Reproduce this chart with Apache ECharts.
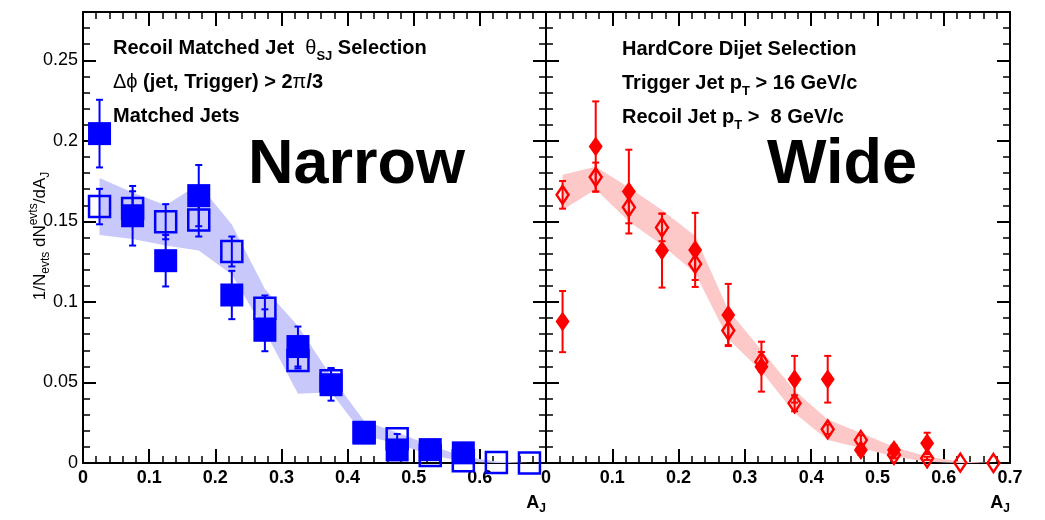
<!DOCTYPE html>
<html><head><meta charset="utf-8">
<script src="https://cdn.jsdelivr.net/npm/echarts@6/dist/echarts.min.js"></script>
<style>html,body{margin:0;padding:0;background:#fff}#c{width:1045px;height:520px}</style>
</head><body><div id="c"></div>
<script>
// ---------- data ----------
const binCenters = [0.025,0.075,0.125,0.175,0.225,0.275,0.325,0.375,0.425,0.475,0.525,0.575,0.625,0.675];

// Narrow (blue)
const narrowFilled    = [0.2045,0.1535,0.1256,0.166,0.1043,0.0824,0.0723,0.0486,0.0186,0.0081,0.0083,0.0063];
const narrowFilledErr = [0.021,0.0185,0.016,0.019,0.015,0.013,0.0124,0.0099,0.004,0.004,0.004,0.003];
const narrowOpen      = [0.1592,0.158,0.1498,0.1508,0.1313,0.096,0.0637,0.051,0.019,0.015,0.0047,0.0014,0.0003,0.0];
const narrowOpenErr   = [0.011,0.0107,0.0109,0.0102,0.0093,0.008,0.005,0.008,0.003,0.003,0.002,0.001,0,0];
const narrowBandHi    = [0.177,0.168,0.160,0.173,0.148,0.108,0.085,0.054,0.026,0.019,0.011,0.004,0.001,0.0];
const narrowBandLo    = [0.1416,0.139,0.135,0.132,0.117,0.082,0.043,0.044,0.017,0.012,0.005,0.001,0.0,0.0];

// Wide (red)
const wideFilled    = [0.0878,0.1965,0.1685,0.1319,0.1323,0.0919,0.0598,0.052,0.052,0.0081,0.0081,0.0122];
const wideFilledErr = [0.019,0.028,0.026,0.023,0.023,0.0193,0.0155,0.0145,0.0145,0.003,0.003,0.0066];
const wideOpen      = [0.1665,0.1775,0.1588,0.1462,0.1236,0.0822,0.0629,0.0371,0.0209,0.0143,0.005,0.0029,0.0002,0.0];
const wideOpenErr   = [0.0086,0.009,0.01,0.0085,0.01,0.009,0.006,0.005,0.003,0.003,0.002,0.001,0,0];
const wideBandHi    = [0.179,0.184,0.171,0.157,0.141,0.095,0.070,0.045,0.027,0.0186,0.010,0.004,0.001,0.0];
const wideBandLo    = [0.157,0.170,0.150,0.1354,0.118,0.077,0.057,0.031,0.0143,0.0093,0.004,0.0008,0.0,0.0];

const xTickValues = [0,0.1,0.2,0.3,0.4,0.5,0.6,0.7];
const yTickLabels = ['0','0.05','0.1','0.15','0.2','0.25'];

// ---------- helpers ----------
const FONT = '"Liberation Sans", Arial, Helvetica, sans-serif';
const BLUE = '#0000ff', RED = '#ff0000';
const BLUE_BAND = 'rgb(200,200,250)', RED_BAND = 'rgb(252,200,200)';

function pts(ys){ return ys.map((y,i)=>[binCenters[i], y]); }
function errPts(ys, es){ return ys.map((y,i)=>[binCenters[i], y, es[i]]); }

function errRender(color){
  return function(params, api){
    const x = api.value(0), y = api.value(1), e = api.value(2);
    if (!(e > 0)) return null;
    const t = api.coord([x, y + e]), b = api.coord([x, y - e]);
    const w = 3.5, ls = {stroke: color, lineWidth: 2};
    return {type:'group', children:[
      {type:'line', shape:{x1:t[0],y1:t[1],x2:b[0],y2:b[1]}, style:ls},
      {type:'line', shape:{x1:t[0]-w,y1:t[1],x2:t[0]+w,y2:t[1]}, style:ls},
      {type:'line', shape:{x1:b[0]-w,y1:b[1],x2:b[0]+w,y2:b[1]}, style:ls}
    ]};
  };
}
function bandRender(hi, lo, color){
  return function(params, api){
    if (params.dataIndex !== 0) return null;
    const p = [];
    for (let i=0;i<binCenters.length;i++) p.push(api.coord([binCenters[i], hi[i]]));
    for (let i=binCenters.length-1;i>=0;i--) p.push(api.coord([binCenters[i], lo[i]]));
    return {type:'polygon', shape:{points:p}, style:{fill:color}};
  };
}

const axisLine = {show:true, onZero:false, lineStyle:{color:'#000', width:2}};
const noLine = {show:false, onZero:false};
// 4 x axes per grid: bottom major (labels), bottom minor, top major, top minor
function xAxesFor(g){
  const major = {type:'value', gridIndex:g, min:0, max:0.7, interval:0.1,
    axisLine, splitLine:{show:false},
    axisTick:{show:true, inside:true, length:14, lineStyle:{color:'#000', width:2}}};
  const minor = {type:'value', gridIndex:g, min:0, max:0.7, interval:0.02,
    axisLine:noLine, splitLine:{show:false}, axisLabel:{show:false},
    axisTick:{show:true, inside:true, length:7, lineStyle:{color:'#000', width:1.5}}};
  return [
    Object.assign({}, major, {position:'bottom',
      axisLabel:{show:true, margin:6, color:'#000', fontFamily:FONT, fontWeight:'bold', fontSize:18,
        formatter:function(v){
          if (g===0 && v>0.65) return '';
          const idx = Math.round(v*10);
          return idx===0 ? '0' : String(xTickValues[idx]);
        }}}),
    Object.assign({}, minor, {position:'bottom'}),
    Object.assign({}, major, {position:'top', axisLabel:{show:false}}),
    Object.assign({}, minor, {position:'top'})
  ];
}
function yAxesFor(g){
  const major = {type:'value', gridIndex:g, min:0, max:0.28, interval:0.05, axisLine,
    splitLine:{show:false},
    axisTick:{show:true, inside:true, length:13, lineStyle:{color:'#000', width:2}}};
  const minor = {type:'value', gridIndex:g, min:0, max:0.28, interval:0.01,
    axisLine:noLine, splitLine:{show:false}, axisLabel:{show:false},
    axisTick:{show:true, inside:true, length:7, lineStyle:{color:'#000', width:1.5}}};
  return [
    Object.assign({}, major, {position:'left', axisLabel:{show:g===0, margin:5, color:'#000', fontFamily:FONT, fontSize:18,
      formatter:function(v){ const i = Math.round(v/0.05); return Math.abs(v - i*0.05) < 1e-6 && i < yTickLabels.length ? yTickLabels[i] : ''; }}}),
    Object.assign({}, minor, {position:'left'}),
    Object.assign({}, major, {position:'right', axisLabel:{show:false}}),
    Object.assign({}, minor, {position:'right'})
  ];
}

const series = [];
function addPanel(g, hi, lo, bandColor, filled, filledErr, open, openErr, color, filledSym, openSym){
  const xi = g*4, yi = g*4;
  series.push({type:'custom', xAxisIndex:xi, yAxisIndex:yi, silent:true, z:1,
    data: binCenters.map((x,i)=>[x, hi[i], lo[i]]), encode:{x:0, y:1},
    renderItem: bandRender(hi, lo, bandColor)});
  series.push({type:'custom', xAxisIndex:xi, yAxisIndex:yi, silent:true, z:3,
    data: errPts(filled, filledErr), encode:{x:0, y:1}, renderItem: errRender(color)});
  series.push(Object.assign({type:'scatter', xAxisIndex:xi, yAxisIndex:yi, silent:true, z:3,
    data: pts(filled), itemStyle:{color:color, opacity:1}}, filledSym));
  series.push({type:'custom', xAxisIndex:xi, yAxisIndex:yi, silent:true, z:4,
    data: errPts(open, openErr), encode:{x:0, y:1}, renderItem: errRender(color)});
  series.push(Object.assign({type:'scatter', xAxisIndex:xi, yAxisIndex:yi, silent:true, z:5,
    data: pts(open), itemStyle:{color:'rgba(0,0,0,0)', borderColor:color, borderWidth:2.5, opacity:1}}, openSym));
}
addPanel(0, narrowBandHi, narrowBandLo, BLUE_BAND, narrowFilled, narrowFilledErr, narrowOpen, narrowOpenErr, BLUE,
  {symbol:'rect', symbolSize:23}, {symbol:'rect', symbolSize:21});
addPanel(1, wideBandHi, wideBandLo, RED_BAND, wideFilled, wideFilledErr, wideOpen, wideOpenErr, RED,
  {symbol:'diamond', symbolSize:[14,20]}, {symbol:'diamond', symbolSize:[12,18]});

// ---------- text ----------
const B = {fontFamily:FONT, fontWeight:'bold', fontSize:20, fill:'#000', lineHeight:30, verticalAlign:'middle'};
const R = {fontFamily:FONT, fontWeight:'normal', fontSize:20, fill:'#000', lineHeight:30, verticalAlign:'middle'};
const SUB = {fontFamily:FONT, fontWeight:'bold', fontSize:13, fill:'#000', lineHeight:6, verticalAlign:'bottom'};
function txt(x, y, text, rich, extra){
  return Object.assign({type:'text', x:x, y:y, silent:true, z:100,
    style:{text:text, rich:rich, align:'left', verticalAlign:'middle', fontFamily:FONT, fill:'#000'}}, extra||{});
}
const richL = {b:B, r:R, s:SUB};
const graphic = [
  txt(113, 48, '{b|Recoil Matched Jet  }{r|θ}{s|SJ}{b| Selection}', {b:B, r:R, s:Object.assign({}, SUB, {lineHeight:10})}),
  txt(113, 82, '{r|Δϕ}{b| (jet, Trigger) > 2}{r|π}{b|/3}', richL),
  txt(113, 116, '{b|Matched Jets}', richL),
  txt(622, 49, '{b|HardCore Dijet Selection}', richL),
  txt(622, 83, '{b|Trigger Jet p}{s|T}{b| > 16 GeV/c}', richL),
  txt(622, 117, '{b|Recoil Jet p}{s|T}{b| >  8 GeV/c}', richL),
  {type:'text', x:248, y:166, silent:true, z:100, style:{text:'Narrow', font:'bold 63px ' + FONT, fill:'#000', align:'left', verticalAlign:'middle'}},
  {type:'text', x:767, y:166, silent:true, z:100, style:{text:'Wide', font:'bold 63px ' + FONT, fill:'#000', align:'left', verticalAlign:'middle'}},
  // axis titles
  {type:'text', x:546, y:503, silent:true, z:100, style:{text:'{a|A}{s|J}', align:'right', verticalAlign:'middle',
    rich:{a:{fontFamily:FONT, fontWeight:'bold', fontSize:18, lineHeight:24, verticalAlign:'middle', fill:'#000'},
          s:{fontFamily:FONT, fontWeight:'bold', fontSize:12, lineHeight:10, verticalAlign:'bottom', fill:'#000'}}}},
  {type:'text', x:1010, y:503, silent:true, z:100, style:{text:'{a|A}{s|J}', align:'right', verticalAlign:'middle',
    rich:{a:{fontFamily:FONT, fontWeight:'bold', fontSize:18, lineHeight:24, verticalAlign:'middle', fill:'#000'},
          s:{fontFamily:FONT, fontWeight:'bold', fontSize:12, lineHeight:10, verticalAlign:'bottom', fill:'#000'}}}},
  {type:'text', x:40, y:236, rotation:Math.PI/2, silent:true, z:100, style:{
    text:'{m|1/N}{sub|evts}{m| dN}{sup|evts}{m|/dA}{sub|J}', align:'center', verticalAlign:'middle',
    rich:{m:{fontFamily:FONT, fontSize:17, lineHeight:24, verticalAlign:'middle', fill:'#000'},
          sub:{fontFamily:FONT, fontSize:12, lineHeight:12, verticalAlign:'bottom', fill:'#000'},
          sup:{fontFamily:FONT, fontSize:12, lineHeight:10, verticalAlign:'top', fill:'#000'}}}}
];

const chart = echarts.init(document.getElementById('c'), null, {renderer:'canvas'});
chart.setOption({
  animation:false,
  backgroundColor:'#fff',
  grid:[{left:83, top:12, width:463, height:451}, {left:546, top:12, width:464, height:451}],
  xAxis: xAxesFor(0).concat(xAxesFor(1)),
  yAxis: yAxesFor(0).concat(yAxesFor(1)),
  series: series,
  graphic: graphic
});
</script></body></html>
